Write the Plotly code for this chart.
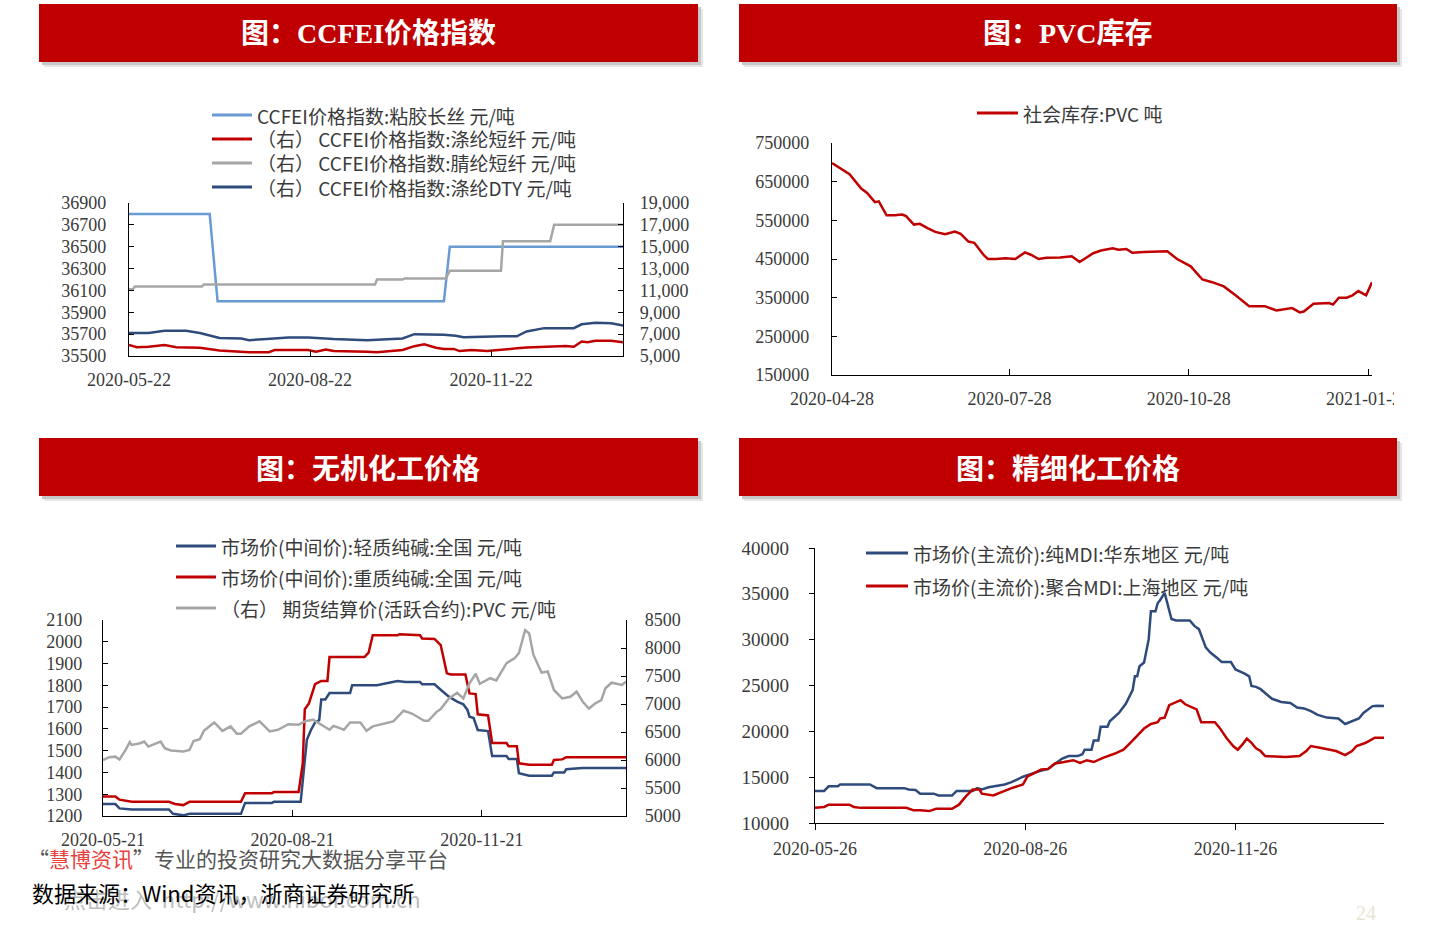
import plotly.graph_objects as go

W, H = 1440, 926

# ---------------- Panel 1: CCFEI price index ----------------
viscose_dates = ["2020-05-22", "2020-07-02", "2020-07-06", "2020-10-29", "2020-11-01", "2021-01-28"]
viscose_vals = [36800, 36800, 36000, 36000, 36500, 36500]

acrylic_dates = ["2020-05-22", "2020-05-24", "2020-05-25", "2020-06-28", "2020-06-29", "2020-09-24",
                 "2020-09-25", "2020-10-08", "2020-10-09", "2020-10-30", "2020-11-01", "2020-11-27",
                 "2020-11-28", "2020-12-22", "2020-12-24", "2021-01-28"]
acrylic_vals = [11100, 11100, 11350, 11350, 11550, 11550, 12000, 12000, 12100, 12100, 12800, 12800,
                15500, 15500, 17000, 17000]

psf_dates = ["2020-05-22", "2020-05-26", "2020-06-01", "2020-06-09", "2020-06-15", "2020-06-27",
             "2020-07-07", "2020-07-22", "2020-08-01", "2020-08-04", "2020-08-21", "2020-08-25",
             "2020-08-30", "2020-09-03", "2020-09-20", "2020-09-25", "2020-10-08", "2020-10-14",
             "2020-10-19", "2020-10-25", "2020-10-29", "2020-11-03", "2020-11-06", "2020-11-12",
             "2020-11-20", "2020-11-28", "2020-12-05", "2020-12-10", "2020-12-19", "2020-12-30",
             "2021-01-03", "2021-01-07", "2021-01-10", "2021-01-14", "2021-01-22", "2021-01-28"]
psf_vals = [6000, 5800, 5850, 6000, 5800, 5750, 5500, 5350, 5350, 5550, 5550, 5400, 5600, 5450, 5400,
            5350, 5550, 5900, 6080, 5750, 5650, 5650, 5450, 5550, 5450, 5550, 5700, 5780, 5850, 5920,
            5850, 6320, 6250, 6400, 6400, 6250]

dty_dates = ["2020-05-22", "2020-06-01", "2020-06-09", "2020-06-20", "2020-06-27", "2020-07-07",
             "2020-07-18", "2020-07-22", "2020-07-31", "2020-08-11", "2020-08-21", "2020-09-03",
             "2020-09-20", "2020-09-30", "2020-10-08", "2020-10-14", "2020-10-29", "2020-11-04",
             "2020-11-08", "2020-11-28", "2020-12-05", "2020-12-10", "2020-12-19", "2021-01-03",
             "2021-01-07", "2021-01-14", "2021-01-22", "2021-01-28"]
dty_vals = [7100, 7100, 7300, 7300, 7100, 6650, 6600, 6450, 6550, 6700, 6700, 6550, 6450, 6500, 6600,
            7000, 6950, 6850, 6720, 6800, 6800, 7250, 7550, 7550, 7900, 8050, 8000, 7800]

p1_xticks = ["2020-05-22", "2020-08-22", "2020-11-22"]

# ---------------- Panel 2: PVC inventory ----------------
pvc_inv_dates = ["2020-04-28", "2020-05-07", "2020-05-13", "2020-05-16", "2020-05-20", "2020-05-22",
                 "2020-05-26", "2020-05-30", "2020-06-03", "2020-06-05", "2020-06-09", "2020-06-12",
                 "2020-06-16", "2020-06-20", "2020-06-25", "2020-06-30", "2020-07-03", "2020-07-07",
                 "2020-07-10", "2020-07-15", "2020-07-17", "2020-07-21", "2020-07-26", "2020-07-31",
                 "2020-08-05", "2020-08-08", "2020-08-12", "2020-08-16", "2020-08-23", "2020-08-29",
                 "2020-09-02", "2020-09-09", "2020-09-13", "2020-09-19", "2020-09-22", "2020-09-26",
                 "2020-09-29", "2020-10-05", "2020-10-17", "2020-10-22", "2020-10-29", "2020-11-04",
                 "2020-11-09", "2020-11-15", "2020-11-21", "2020-11-28", "2020-12-06", "2020-12-12",
                 "2020-12-20", "2020-12-24", "2020-12-26", "2020-12-31", "2021-01-08", "2021-01-10",
                 "2021-01-13", "2021-01-17", "2021-01-20", "2021-01-23", "2021-01-27", "2021-01-30"]
pvc_inv_vals = [698000, 669000, 632000, 621000, 597000, 599000, 563000, 563000, 565000, 561000,
                539000, 541000, 530000, 520000, 514000, 521000, 515000, 495000, 492000, 459000,
                450000, 450000, 452000, 450000, 467000, 461000, 450000, 453000, 454000, 457000,
                442000, 465000, 472000, 478000, 474000, 476000, 466000, 468000, 470000, 450000,
                431000, 397000, 390000, 379000, 356000, 328000, 328000, 317000, 323000, 312000,
                314000, 334000, 336000, 332000, 350000, 350000, 356000, 367000, 356000, 390000]

p2_xticks = ["2020-04-28", "2020-07-28", "2020-10-28", "2021-01-28"]

# ---------------- Panel 3: inorganic chemicals ----------------
light_dates = ["2020-05-21", "2020-05-27", "2020-05-29", "2020-06-04", "2020-06-22", "2020-06-24",
               "2020-06-29", "2020-07-02", "2020-07-27", "2020-07-29", "2020-08-11", "2020-08-12",
               "2020-08-25", "2020-08-26", "2020-08-27", "2020-08-28", "2020-08-30", "2020-09-01",
               "2020-09-03", "2020-09-04", "2020-09-06", "2020-09-08", "2020-09-18", "2020-09-19",
               "2020-10-01", "2020-10-07", "2020-10-11", "2020-10-15", "2020-10-22", "2020-10-23",
               "2020-10-29", "2020-11-01", "2020-11-05", "2020-11-09", "2020-11-12", "2020-11-14",
               "2020-11-15", "2020-11-17", "2020-11-19", "2020-11-24", "2020-11-26", "2020-12-03",
               "2020-12-04", "2020-12-08", "2020-12-09", "2020-12-14", "2020-12-25", "2020-12-26",
               "2020-12-31", "2021-01-01", "2021-01-09", "2021-01-30"]
light_vals = [1255, 1255, 1235, 1230, 1230, 1210, 1203, 1210, 1210, 1260, 1260, 1265, 1265, 1350, 1440,
              1550, 1595, 1630, 1640, 1735, 1735, 1765, 1765, 1800, 1800, 1810, 1820, 1815, 1815, 1805,
              1805, 1780, 1748, 1725, 1713, 1687, 1656, 1650, 1595, 1590, 1475, 1475, 1462, 1462, 1396,
              1385, 1385, 1400, 1400, 1415, 1420, 1420]

heavy_dates = ["2020-05-21", "2020-05-27", "2020-05-29", "2020-06-04", "2020-06-22", "2020-06-25",
               "2020-06-29", "2020-07-02", "2020-07-27", "2020-07-29", "2020-08-11", "2020-08-12",
               "2020-08-24", "2020-08-26", "2020-08-27", "2020-08-29", "2020-09-01", "2020-09-04",
               "2020-09-07", "2020-09-08", "2020-09-25", "2020-09-27", "2020-09-29", "2020-10-11",
               "2020-10-12", "2020-10-15", "2020-10-22", "2020-10-23", "2020-10-29", "2020-11-01",
               "2020-11-04", "2020-11-06", "2020-11-13", "2020-11-15", "2020-11-18", "2020-11-19",
               "2020-11-24", "2020-11-26", "2020-12-03", "2020-12-04", "2020-12-08", "2020-12-09",
               "2020-12-14", "2020-12-25", "2020-12-26", "2020-12-30", "2021-01-01", "2021-01-30"]
heavy_vals = [1290, 1290, 1275, 1265, 1265, 1255, 1250, 1265, 1265, 1305, 1305, 1310, 1310, 1440, 1690,
              1717, 1805, 1820, 1820, 1930, 1930, 1950, 2030, 2030, 2035, 2033, 2030, 2015, 2013, 1985,
              1855, 1850, 1850, 1763, 1760, 1667, 1662, 1535, 1535, 1520, 1520, 1442, 1435, 1435, 1457,
              1460, 1470, 1470]

pvcfut_dates = ["2020-05-21", "2020-05-24", "2020-05-27", "2020-05-29", "2020-06-01", "2020-06-03",
                "2020-06-04", "2020-06-08", "2020-06-10", "2020-06-12", "2020-06-18", "2020-06-20",
                "2020-06-23", "2020-06-29", "2020-07-02", "2020-07-04", "2020-07-07", "2020-07-09",
                "2020-07-14", "2020-07-18", "2020-07-22", "2020-07-25", "2020-07-27", "2020-07-31",
                "2020-08-05", "2020-08-10", "2020-08-14", "2020-08-19", "2020-08-24", "2020-08-27",
                "2020-08-31", "2020-09-04", "2020-09-08", "2020-09-10", "2020-09-15", "2020-09-18",
                "2020-09-23", "2020-09-26", "2020-09-29", "2020-10-09", "2020-10-14", "2020-10-18",
                "2020-10-24", "2020-10-26", "2020-10-30", "2020-11-01", "2020-11-05", "2020-11-09",
                "2020-11-12", "2020-11-15", "2020-11-18", "2020-11-20", "2020-11-25", "2020-11-28",
                "2020-12-03", "2020-12-07", "2020-12-09", "2020-12-12", "2020-12-14", "2020-12-16",
                "2020-12-20", "2020-12-23", "2020-12-26", "2020-12-30", "2021-01-03", "2021-01-06",
                "2021-01-09", "2021-01-12", "2021-01-15", "2021-01-18", "2021-01-20", "2021-01-23",
                "2021-01-28", "2021-01-30"]
pvcfut_vals = [6000, 6050, 6060, 6010, 6180, 6320, 6270, 6300, 6330, 6240, 6330, 6210, 6170, 6150,
               6180, 6340, 6370, 6520, 6670, 6520, 6600, 6470, 6470, 6600, 6690, 6510, 6540, 6640,
               6630, 6690, 6720, 6630, 6540, 6610, 6540, 6670, 6670, 6520, 6600, 6690, 6880, 6830,
               6700, 6700, 6860, 6910, 7100, 7200, 7100, 7370, 7540, 7360, 7460, 7420, 7730, 7820,
               7910, 8320, 8260, 7880, 7560, 7580, 7250, 7100, 7130, 7220, 7040, 6920, 7010, 7070,
               7280, 7380, 7340, 7400]

p3_xticks = ["2020-05-21", "2020-08-21", "2020-11-21"]

# ---------------- Panel 4: fine chemicals ----------------
pmdi_dates = ["2020-05-26", "2020-05-30", "2020-06-01", "2020-06-05", "2020-06-06", "2020-06-19",
              "2020-06-22", "2020-07-04", "2020-07-06", "2020-07-09", "2020-07-11", "2020-07-17",
              "2020-07-19", "2020-07-25", "2020-07-27", "2020-08-03", "2020-08-05", "2020-08-07",
              "2020-08-10", "2020-08-13", "2020-08-17", "2020-08-20", "2020-08-25", "2020-08-28",
              "2020-09-01", "2020-09-05", "2020-09-08", "2020-09-11", "2020-09-14", "2020-09-18",
              "2020-09-20", "2020-09-21", "2020-09-24", "2020-09-25", "2020-09-27", "2020-09-28",
              "2020-10-01", "2020-10-02", "2020-10-06", "2020-10-09", "2020-10-12", "2020-10-13",
              "2020-10-14", "2020-10-15", "2020-10-17", "2020-10-19", "2020-10-20", "2020-10-22",
              "2020-10-23", "2020-10-24", "2020-10-26", "2020-10-28", "2020-10-29", "2020-10-31",
              "2020-11-06", "2020-11-08", "2020-11-10", "2020-11-13", "2020-11-15", "2020-11-18",
              "2020-11-20", "2020-11-24", "2020-11-26", "2020-11-30", "2020-12-02", "2020-12-03",
              "2020-12-05", "2020-12-07", "2020-12-10", "2020-12-12", "2020-12-16", "2020-12-20",
              "2020-12-23", "2020-12-26", "2020-12-29", "2021-01-01", "2021-01-05", "2021-01-10",
              "2021-01-13", "2021-01-16", "2021-01-19", "2021-01-21", "2021-01-25", "2021-01-27",
              "2021-01-30"]
pmdi_vals = [13500, 13500, 14000, 14000, 14200, 14200, 13800, 13800, 13650, 13600, 13200, 13200,
             13000, 13000, 13500, 13500, 13800, 13650, 13900, 14000, 14200, 14450, 15050, 15300,
             15650, 15900, 16450, 17000, 17300, 17300, 17500, 18000, 18000, 19000, 19000, 20500,
             20500, 21100, 22000, 23000, 24500, 26000, 26000, 27100, 27500, 30000, 33100, 33100,
             34000, 34300, 35100, 33150, 32250, 32100, 32100, 31500, 31150, 29150, 28600, 28000,
             27550, 27550, 26750, 26300, 26000, 24950, 24850, 24600, 24000, 23550, 23200, 23100,
             22600, 22500, 22200, 21800, 21500, 21400, 20800, 21100, 21400, 22000, 22750, 22800,
             22750]

polymdi_dates = ["2020-05-26", "2020-05-30", "2020-06-01", "2020-06-10", "2020-06-12", "2020-06-15",
                 "2020-07-05", "2020-07-08", "2020-07-11", "2020-07-15", "2020-07-18", "2020-07-25",
                 "2020-07-28", "2020-07-31", "2020-08-03", "2020-08-06", "2020-08-07", "2020-08-12",
                 "2020-08-17", "2020-08-20", "2020-08-25", "2020-08-27", "2020-08-30", "2020-09-02",
                 "2020-09-05", "2020-09-08", "2020-09-12", "2020-09-16", "2020-09-19", "2020-09-22",
                 "2020-09-25", "2020-09-29", "2020-10-04", "2020-10-08", "2020-10-11", "2020-10-14",
                 "2020-10-17", "2020-10-20", "2020-10-23", "2020-10-24", "2020-10-26", "2020-10-28",
                 "2020-10-30", "2020-11-02", "2020-11-04", "2020-11-09", "2020-11-11", "2020-11-17",
                 "2020-11-19", "2020-11-22", "2020-11-25", "2020-11-27", "2020-11-29", "2020-12-01",
                 "2020-12-03", "2020-12-05", "2020-12-07", "2020-12-09", "2020-12-18", "2020-12-24",
                 "2020-12-27", "2020-12-29", "2021-01-02", "2021-01-06", "2021-01-09", "2021-01-13",
                 "2021-01-16", "2021-01-18", "2021-01-22", "2021-01-26", "2021-01-30"]
polymdi_vals = [11650, 11750, 12000, 12000, 11750, 11650, 11650, 11400, 11400, 11300, 11550, 11550,
                12000, 12900, 13650, 13650, 13200, 13000, 13500, 13800, 14200, 15100, 15450, 15850,
                15900, 16500, 16650, 16850, 16550, 16850, 16650, 17100, 17550, 18000, 18750, 19550,
                20300, 20800, 21000, 21400, 21500, 22850, 23100, 23400, 22950, 22400, 21000, 21000,
                20400, 19300, 18400, 18000, 18550, 19200, 18750, 18150, 17850, 17300, 17200, 17300,
                17850, 18400, 18200, 18000, 17850, 17400, 17850, 18400, 18750, 19300, 19300]

p4_xticks = ["2020-05-26", "2020-08-26", "2020-11-26"]

# ---------------- styling constants ----------------
RED = "#C00000"
NAVY = "#2F4B7C"
LBLUE = "#6A9AD2"
GRAY = "#A6A6A6"
TXT = "#3A3A3A"
TICKFONT = dict(family="Liberation Serif, serif", size=18, color=TXT)
LEGFONT = dict(family="Noto Sans CJK SC", size=19, color=TXT)


def px(x):
    return x / W


def py(y):
    return 1 - y / H


fig = go.Figure()

# panel 1
fig.add_trace(go.Scatter(x=viscose_dates, y=viscose_vals, mode="lines", line=dict(color=LBLUE, width=2.5),
                         xaxis="x", yaxis="y", showlegend=False))
fig.add_trace(go.Scatter(x=psf_dates, y=psf_vals, mode="lines", line=dict(color=RED, width=2.5),
                         xaxis="x", yaxis="y2", showlegend=False))
fig.add_trace(go.Scatter(x=acrylic_dates, y=acrylic_vals, mode="lines", line=dict(color=GRAY, width=2.5),
                         xaxis="x", yaxis="y2", showlegend=False))
fig.add_trace(go.Scatter(x=dty_dates, y=dty_vals, mode="lines", line=dict(color=NAVY, width=2.5),
                         xaxis="x", yaxis="y2", showlegend=False))
# panel 2
fig.add_trace(go.Scatter(x=pvc_inv_dates, y=pvc_inv_vals, mode="lines", line=dict(color=RED, width=2.5),
                         xaxis="x2", yaxis="y3", showlegend=False))
# panel 3
fig.add_trace(go.Scatter(x=pvcfut_dates, y=pvcfut_vals, mode="lines", line=dict(color=GRAY, width=2.5),
                         xaxis="x3", yaxis="y5", showlegend=False))
fig.add_trace(go.Scatter(x=light_dates, y=light_vals, mode="lines", line=dict(color=NAVY, width=2.5),
                         xaxis="x3", yaxis="y4", showlegend=False))
fig.add_trace(go.Scatter(x=heavy_dates, y=heavy_vals, mode="lines", line=dict(color=RED, width=2.5),
                         xaxis="x3", yaxis="y4", showlegend=False))
# panel 4
fig.add_trace(go.Scatter(x=pmdi_dates, y=pmdi_vals, mode="lines", line=dict(color=NAVY, width=2.5),
                         xaxis="x4", yaxis="y6", showlegend=False))
fig.add_trace(go.Scatter(x=polymdi_dates, y=polymdi_vals, mode="lines", line=dict(color=RED, width=2.5),
                         xaxis="x4", yaxis="y6", showlegend=False))


def xax(domain, rng, ticks, texts, anchor, tickdir="inside"):
    return dict(domain=domain, range=rng, anchor=anchor, type="date", tickvals=ticks, ticktext=texts,
                showgrid=False, zeroline=False, showline=True, linecolor="#000", linewidth=1.2,
                ticks=tickdir, ticklen=6, tickcolor="#000", tickfont=TICKFONT, ticklabelstandoff=7,
                automargin=False)


def yax(domain, rng, dtick, anchor, side="left", overlaying=None, fmt="d", tickdir="inside", standoff=14):
    d = dict(domain=domain, range=rng, dtick=dtick, tick0=rng[0], anchor=anchor, side=side,
             showgrid=False, zeroline=False, showline=True, linecolor="#000", linewidth=1.2,
             ticks=tickdir, ticklen=5, tickcolor="#000", tickfont=TICKFONT, ticklabelstandoff=standoff,
             tickformat=fmt, automargin=False)
    if overlaying:
        d["overlaying"] = overlaying
    return d


layout = dict(
    width=W, height=H, autosize=False, margin=dict(l=0, r=0, t=0, b=0, pad=0, autoexpand=False),
    paper_bgcolor="white", plot_bgcolor="rgba(0,0,0,0)", showlegend=False,
    xaxis=xax([px(129), px(623)], ["2020-05-22", "2021-01-28"], p1_xticks, p1_xticks, "y"),
    yaxis=yax([py(356), py(203)], [35500, 36900], 200, "x", standoff=18),
    yaxis2=yax([py(356), py(203)], [5000, 19000], 2000, "x", side="right", overlaying="y", fmt=",d", standoff=12),
    xaxis2=xax([px(832), px(1372)], ["2020-04-28", "2021-01-30"], p2_xticks,
               ["2020-04-28", "2020-07-28", "2020-10-28", "2021-01-28"], "y3"),
    yaxis3=yax([py(375), py(143)], [150000, 750000], 100000, "x2", standoff=18),
    xaxis3=xax([px(103), px(626)], ["2020-05-21", "2021-01-30"], p3_xticks, p3_xticks, "y4"),
    yaxis4=yax([py(816), py(620)], [1200, 2100], 100, "x3", standoff=16),
    yaxis5=yax([py(816), py(620)], [5000, 8500], 500, "x3", side="right", overlaying="y4", standoff=14),
    xaxis4=xax([px(815), px(1384)], ["2020-05-26", "2021-01-30"], p4_xticks, p4_xticks, "y6", tickdir="outside"),
    yaxis6=yax([py(823), py(548)], [10000, 40000], 5000, "x4", tickdir="outside", standoff=16),
)
layout["xaxis4"]["ticklabelstandoff"] = 3
layout["yaxis6"]["tickfont"] = dict(family="Liberation Serif, serif", size=19, color=TXT)

shapes = []
annotations = []

# header banners
banners = [
    (39, 698, 4, 62, "图：CCFEI价格指数", "Liberation Serif, Noto Sans CJK SC"),
    (739, 1397, 4, 62, "图：PVC库存", "Liberation Serif, Noto Sans CJK SC"),
    (39, 698, 438, 496, "图：无机化工价格", "Noto Sans CJK SC"),
    (739, 1397, 438, 496, "图：精细化工价格", "Noto Sans CJK SC"),
]
for x0, x1, y0, y1, title, fam in banners:
    for off, col in [(5, "#E6E6E6"), (3, "#C8C8C8")]:
        shapes.append(dict(type="rect", xref="paper", yref="paper", x0=px(x0 + off), x1=px(x1 + off),
                           y0=py(y1 + off), y1=py(y0 + off), fillcolor=col, line=dict(width=0), layer="below"))
    shapes.append(dict(type="rect", xref="paper", yref="paper", x0=px(x0), x1=px(x1), y0=py(y1), y1=py(y0),
                       fillcolor=RED, line=dict(width=0), layer="below"))
    annotations.append(dict(xref="paper", yref="paper", x=px((x0 + x1) / 2), y=py((y0 + y1) / 2),
                            text="<b>" + title + "</b>", showarrow=False, xanchor="center", yanchor="middle",
                            font=dict(family=fam, size=28, color="white")))

# manual legends
legend_rows = [
    (212, 252, 115, LBLUE, "CCFEI价格指数:粘胶长丝 元/吨"),
    (212, 252, 139, RED, "（右） CCFEI价格指数:涤纶短纤 元/吨"),
    (212, 252, 163, GRAY, "（右） CCFEI价格指数:腈纶短纤 元/吨"),
    (212, 252, 187, NAVY, "（右） CCFEI价格指数:涤纶DTY 元/吨"),
    (977, 1018, 113, RED, "社会库存:PVC 吨"),
    (176, 216, 546, NAVY, "市场价(中间价):轻质纯碱:全国 元/吨"),
    (176, 216, 577, RED, "市场价(中间价):重质纯碱:全国 元/吨"),
    (176, 216, 608, GRAY, "（右） 期货结算价(活跃合约):PVC 元/吨"),
    (866, 908, 553, NAVY, "市场价(主流价):纯MDI:华东地区 元/吨"),
    (866, 908, 586, RED, "市场价(主流价):聚合MDI:上海地区 元/吨"),
]
for x0, x1, y, col, txt in legend_rows:
    shapes.append(dict(type="line", xref="paper", yref="paper", x0=px(x0), x1=px(x1), y0=py(y), y1=py(y),
                       line=dict(color=col, width=3)))
    annotations.append(dict(xref="paper", yref="paper", x=px(x1 + 3), y=py(y), text=txt, showarrow=False,
                            xanchor="left", yanchor="middle", font=LEGFONT))

# crop the last PVC date label at the panel edge
shapes.append(dict(type="rect", xref="paper", yref="paper", x0=px(1394), x1=1, y0=py(412), y1=py(382),
                   fillcolor="white", line=dict(width=0), layer="above"))

# footer
annotations.append(dict(xref="paper", yref="paper", x=px(62), y=py(898),
                        text="点击进入  http://www.hibor.com.cn", showarrow=False, xanchor="left",
                        yanchor="middle", font=dict(family="Noto Sans CJK SC", size=22, color="#BDBDBD")))
annotations.append(dict(xref="paper", yref="paper", x=px(26), y=py(858),
                        text="“<span style='color:#E8413D'>慧博资讯</span>”专业的投资研究大数据分享平台",
                        showarrow=False, xanchor="left", yanchor="middle",
                        font=dict(family="Noto Sans CJK SC", size=21, color="#555555")))
annotations.append(dict(xref="paper", yref="paper", x=px(30), y=py(892),
                        text="数据来源：Wind资讯，浙商证券研究所", showarrow=False, xanchor="left",
                        yanchor="middle", font=dict(family="Noto Sans CJK SC", size=22, color="#000000")))
annotations.append(dict(xref="paper", yref="paper", x=px(1366), y=py(913), text="24", showarrow=False,
                        xanchor="center", yanchor="middle",
                        font=dict(family="Liberation Serif, serif", size=20, color="#E8E4D2")))

layout["shapes"] = shapes
layout["annotations"] = annotations
fig.update_layout(**layout)
fig.write_html("out.html")
